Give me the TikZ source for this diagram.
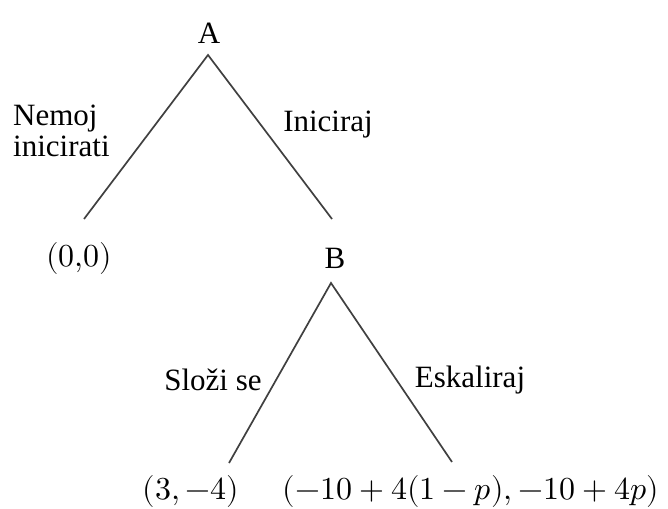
\documentclass[tikz,border=0pt]{standalone}
\usepackage{fontspec}
\usepackage{unicode-math}
\setmainfont{Liberation Serif}
\newfontfamily\tnrfont{Liberation Serif}
\setmathfont{Latin Modern Math}
\begin{document}
\begin{tikzpicture}[x=1pt,y=-1pt,
  lbl/.style={font=\tnrfont\fontsize{31}{34}\selectfont, inner sep=0pt, text=black},
  pay/.style={font=\fontsize{32}{36}\selectfont, inner sep=0pt, text=black},
  branch/.style={draw=black!75, line width=1.7pt}]
\useasboundingbox (0,0) rectangle (668,508);
% nodes
\node[lbl] (A) at (209,33) {A};
\node[lbl] (B) at (335,258) {B};
\node[pay] (p00) at (79,258) {$(0{,}0)$};
\node[pay] (p34) at (191,491) {$(3,-4)$};
\node[pay] (pesc) at (471,491) {$(-10+4(1-p),-10+4p)$};
% labels
\node[lbl, anchor=west, align=left] (tNem) at (13,131) {Nemoj\\[-3pt]inicirati};
\node[lbl] (tIni) at (328,125) {Iniciraj};
\node[lbl] (tSlo) at (213,380) {Složi se};
\node[lbl] (tEsk) at (470,380) {Eskaliraj};
% connector ends
\coordinate (Atop) at (208,55);
\coordinate (Lend) at (84,219);
\coordinate (Rend) at (332,219);
\coordinate (Btop) at (331,283);
\coordinate (BLend) at (229,463);
\coordinate (BRend) at (452,462);
\draw[branch] (Lend) -- (Atop) -- (Rend);
\draw[branch] (BLend) -- (Btop) -- (BRend);
\end{tikzpicture}
\end{document}
